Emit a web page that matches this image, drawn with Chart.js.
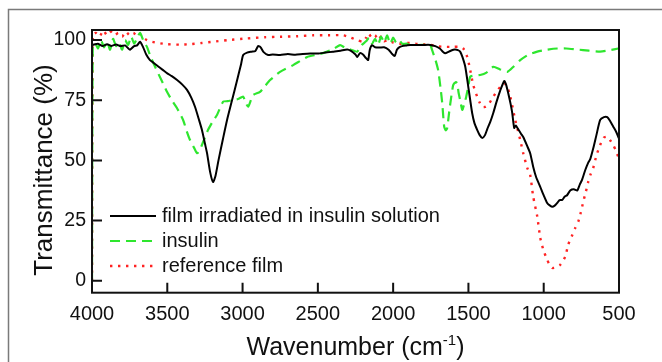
<!DOCTYPE html>
<html lang="en">
<head>
<meta charset="UTF-8">
<title>FTIR transmittance</title>
<script src="https://cdn.jsdelivr.net/npm/chart.js"></script>
<style>
  html, body { margin: 0; padding: 0; background: #fff; }
  canvas { display: block; }
</style>
</head>
<body>
<canvas id="irChart" width="662" height="362"></canvas>
<script>
// series labels and axis ticks
var seriesNames = ["film irradiated in insulin solution", "insulin", "reference film"];
var xTicks = [4000, 3500, 3000, 2500, 2000, 1500, 1000, 500];
var yTicks = [0, 25, 50, 75, 100];

// film irradiated in insulin solution (black)
var filmWn = [3995, 3960, 3930, 3900, 3870, 3840, 3810, 3780, 3760, 3748, 3720, 3700, 3681, 3660, 3640, 3615, 3590, 3560, 3528, 3500,
  3470, 3435, 3400, 3369, 3340, 3316, 3290, 3270, 3250, 3236, 3215, 3196, 3180, 3160, 3130, 3103, 3070, 3036, 3010, 2996,
  2970, 2940, 2915, 2897, 2880, 2860, 2830, 2800, 2750, 2700, 2650, 2600, 2550, 2500, 2450, 2400, 2350, 2305, 2280, 2250,
  2239, 2220, 2200, 2180, 2166, 2155, 2140, 2120, 2090, 2060, 2030, 2010, 1990, 1975, 1960, 1940, 1910, 1887, 1850, 1800,
  1754, 1720, 1690, 1670, 1654, 1630, 1600, 1588, 1570, 1555, 1540, 1521, 1501, 1488, 1475, 1460, 1442, 1425, 1408, 1390,
  1375, 1355, 1335, 1315, 1289, 1262, 1250, 1236, 1220, 1209, 1196, 1185, 1170, 1150, 1136, 1110, 1090, 1070, 1050, 1023,
  1000, 977, 960, 943, 925, 910, 895, 877, 860, 845, 824, 800, 777, 760, 745, 724, 705, 691, 671, 650,
  625, 600, 578, 560, 538, 520, 505, 500];
var filmT = [98, 98.5, 97.5, 98.3, 97.6, 98.2, 97.5, 97.8, 96.6, 96, 97.5, 97.8, 99.3, 97, 94, 91.7, 90.5, 89, 87.5, 86.2,
  85, 83.4, 81.5, 79.3, 76, 72.3, 67, 62.7, 57, 53, 45, 41, 43.5, 50, 59, 66.8, 75, 83.4, 90, 93.8,
  94.8, 95.2, 95.5, 97.5, 97, 95, 93.8, 94, 93.8, 94.2, 93.9, 94.2, 94.4, 94.4, 94.8, 95.2, 95.6, 96.1, 95.5, 94,
  93, 94.6, 94, 92.5, 91.7, 96, 97.9, 97, 96.9, 97, 96, 94.5, 93.4, 96, 97, 97.5, 97.8, 98, 98, 98,
  98, 97.5, 96.5, 95.2, 94.5, 95.2, 96, 96.1, 95.8, 95.2, 93, 88.9, 80.6, 75, 69.6, 65.5, 62.7, 60.5, 59.3, 60.5,
  63, 66, 69.7, 74, 79, 83, 81.5, 78, 73.5, 69.7, 63.5, 64.5, 63, 61, 59.7, 56, 53, 47.4, 43, 39,
  35.5, 32.3, 31.3, 30.7, 31.3, 32.3, 33.5, 33.6, 35, 35.5, 37.5, 38, 37.5, 40, 42, 46, 49, 50.5, 55, 60.5,
  66.8, 68, 68, 66.5, 64, 62, 59.8, 59];

// insulin (green dashed)
var insulinWn = [4000, 3995, 3980, 3960, 3940, 3920, 3900, 3880, 3860, 3840, 3820, 3800, 3780, 3760, 3740, 3720, 3700, 3681, 3660, 3635,
  3610, 3581, 3540, 3502, 3470, 3435, 3395, 3370, 3349, 3320, 3302, 3285, 3270, 3250, 3229, 3200, 3169, 3129, 3100, 3063,
  3030, 2996, 2980, 2963, 2945, 2930, 2884, 2850, 2817, 2751, 2664, 2571, 2500, 2438, 2400, 2352, 2320, 2280, 2239, 2210,
  2180, 2160, 2140, 2120, 2100, 2080, 2060, 2040, 2020, 2000, 1980, 1960, 1940, 1910, 1887, 1800, 1754, 1741, 1720, 1701,
  1685, 1674, 1661, 1650, 1641, 1630, 1620, 1601, 1585, 1575, 1565, 1555, 1541, 1530, 1515, 1500, 1488, 1460, 1422, 1380,
  1335, 1290, 1242, 1200, 1156, 1100, 1043, 980, 910, 850, 777, 700, 625, 560, 505, 500];
var insulinT = [0, 97, 99, 96.5, 100, 97, 99.5, 96, 100.5, 97.5, 99, 96, 100, 98, 101.5, 98.5, 101, 103, 100, 97.2,
  93, 88.9, 83.5, 78.5, 75, 71.7, 66.8, 62, 58.5, 55, 53, 54, 56.4, 59.5, 62.7, 66, 69, 74.4, 74.6, 75.1,
  75.5, 76.5, 74, 72.3, 75, 77.2, 78.5, 81, 83.4, 86.8, 89.6, 93, 94, 95.2, 96.2, 97.9, 96.8, 96, 95.2, 97.9,
  99.5, 100.9, 98.5, 100.5, 98, 101.5, 99, 102, 98.5, 101, 99, 100, 98.5, 98.5, 98, 98, 98, 95.8, 92, 87.5,
  80, 73.8, 64, 62.5, 63.4, 69, 73.8, 81.3, 82.5, 82.1, 78, 75.1, 71, 73, 76.4, 81, 84.8, 85.3, 85.5, 86.5,
  88.9, 87.8, 86.8, 89, 91.7, 94, 95.2, 96, 96.5, 96.5, 96.1, 95.6, 95.2, 95.8, 96.5, 96.6];

// reference film (red dotted)
var refWn = [4000, 3995, 3975, 3950, 3925, 3900, 3875, 3850, 3825, 3800, 3775, 3750, 3725, 3700, 3681, 3660, 3635, 3600, 3560, 3502,
  3420, 3349, 3270, 3196, 3100, 2970, 2850, 2751, 2640, 2531, 2430, 2332, 2280, 2239, 2199, 2180, 2166, 2140, 2120, 2100,
  2080, 2060, 2040, 2000, 1950, 1900, 1850, 1800, 1754, 1700, 1650, 1600, 1555, 1534, 1508, 1488, 1468, 1442, 1425, 1408,
  1390, 1369, 1335, 1289, 1262, 1242, 1222, 1189, 1156, 1136, 1110, 1090, 1070, 1043, 1023, 1003, 977, 960, 943, 920,
  890, 857, 837, 810, 790, 770, 755, 737, 720, 704, 690, 671, 650, 625, 600, 578, 560, 538, 520, 505, 500];
var refT = [0, 102, 103, 101.5, 104, 102, 103.5, 102, 103, 101.5, 103.5, 102, 103, 101.5, 102.5, 101, 100, 99.3, 98.8, 98.3,
  98.1, 98.3, 98.8, 99.3, 100, 100.7, 101.2, 101.4, 101.6, 102, 102, 102, 101, 100, 99.3, 101, 102.8, 101, 102, 100,
  101.5, 99.5, 100, 99, 98.5, 98.8, 98.5, 98.3, 98, 97.4, 97.2, 97.2, 97.2, 96.5, 93, 87.5, 81.3, 76.5, 74, 72.2,
  72.2, 73, 76.5, 80.6, 82, 80.6, 76.5, 66.8, 58.5, 53, 47, 44, 35, 26.7, 17.8, 12.9, 8.7, 6.5, 5.3, 5.5,
  6.6, 10, 15, 19, 22, 24.6, 28, 32.9, 37, 41.2, 44, 46.9, 52, 56.4, 59.5, 59.8, 58.5, 56.4, 54, 51.5, 51];

function toPoints(xs, ys) {
  return xs.map(function(x, i) { return { x: x, y: ys[i] }; });
}

var FONT = "'Liberation Sans', Arial, sans-serif";

var decorPlugin = {
  id: 'decor',
  beforeDraw: function(chart) {
    var c = chart.ctx;
    c.save();
    c.fillStyle = '#fff';
    c.fillRect(0, 0, chart.width, chart.height);
    c.strokeStyle = '#7a7a7a';
    c.lineWidth = 1.5;
    c.beginPath();
    c.moveTo(8.5, 362);
    c.lineTo(8.5, 9.5);
    c.lineTo(662, 9.5);
    c.stroke();
    c.restore();
  },
  afterDatasetsDraw: function(chart) {
    var a = chart.chartArea, c = chart.ctx;
    var xs = chart.scales.x, ys = chart.scales.y;
    c.save();
    // plot frame + inward tick marks
    c.strokeStyle = '#111';
    c.lineWidth = 2;
    c.strokeRect(a.left, a.top, a.right - a.left, a.bottom - a.top);
    c.beginPath();
    yTicks.forEach(function(v) {
      var py = ys.getPixelForValue(v);
      c.moveTo(a.left, py); c.lineTo(a.left + 10, py);
    });
    xTicks.forEach(function(v) {
      var px = xs.getPixelForValue(v);
      c.moveTo(px, a.bottom); c.lineTo(px, a.bottom - 10);
    });
    c.stroke();

    // axis titles
    c.fillStyle = '#111';
    c.font = '25px ' + FONT;
    c.textBaseline = 'alphabetic';
    var main = 'Wavenumber (cm', sup = '-1', tail = ')';
    var w1 = c.measureText(main).width, w3 = c.measureText(tail).width;
    c.font = '15px ' + FONT;
    var w2 = c.measureText(sup).width;
    var x0 = (a.left + a.right) / 2 - (w1 + w2 + w3) / 2;
    c.font = '25px ' + FONT;
    c.textAlign = 'left';
    c.fillText(main, x0, 355);
    c.font = '15px ' + FONT;
    c.fillText(sup, x0 + w1, 345);
    c.font = '25px ' + FONT;
    c.fillText(tail, x0 + w1 + w2, 355);

    c.save();
    c.translate(52, 170);
    c.rotate(-Math.PI / 2);
    c.textAlign = 'center';
    c.font = '26px ' + FONT;
    c.fillText('Transmittance (%)', 0, 0);
    c.restore();

    // legend inside the plot
    c.font = '20px ' + FONT;
    c.textAlign = 'left';
    c.textBaseline = 'middle';
    var rows = [216, 241, 266];
    chart.data.datasets.forEach(function(ds, i) {
      c.save();
      c.strokeStyle = ds.borderColor;
      c.lineWidth = ds.borderWidth;
      c.setLineDash(ds.borderDash || []);
      c.beginPath();
      c.moveTo(110, rows[i]);
      c.lineTo(156, rows[i]);
      c.stroke();
      c.restore();
      c.fillStyle = '#111';
      c.fillText(ds.label, 162, rows[i]);
    });
    c.restore();
  }
};

var chart = new Chart(document.getElementById('irChart'), {
  type: 'line',
  data: {
    datasets: [
      { label: seriesNames[0], data: toPoints(filmWn, filmT), borderColor: '#000000', borderWidth: 2, pointRadius: 0, tension: 0.2 },
      { label: seriesNames[1], data: toPoints(insulinWn, insulinT), borderColor: '#2ee62e', borderWidth: 2.2, borderDash: [10, 6], pointRadius: 0, tension: 0.2 },
      { label: seriesNames[2], data: toPoints(refWn, refT), borderColor: '#ff2222', borderWidth: 2.4, borderDash: [2.4, 5.6], pointRadius: 0, tension: 0.2 }
    ]
  },
  options: {
    responsive: false,
    animation: false,
    devicePixelRatio: 1,
    layout: { padding: { top: 30, right: 43, left: 0, bottom: 0 } },
    plugins: { legend: { display: false }, tooltip: { enabled: false } },
    scales: {
      x: {
        type: 'linear',
        reverse: true,
        min: 500,
        max: 4000,
        grid: { display: false, drawTicks: false },
        border: { display: false },
        afterBuildTicks: function(s) { s.ticks = xTicks.map(function(v) { return { value: v }; }); },
        afterFit: function(s) { s.height = 69.3; },
        ticks: {
          color: '#111', padding: 10, maxRotation: 0, autoSkip: false,
          font: { family: FONT, size: 20 },
          callback: function(v) { return String(v); }
        }
      },
      y: {
        min: -5,
        max: 104.2,
        grid: { display: false, drawTicks: false },
        border: { display: false },
        afterBuildTicks: function(s) { s.ticks = yTicks.map(function(v) { return { value: v }; }); },
        afterFit: function(s) { s.width = 92; },
        ticks: {
          color: '#111', padding: 6,
          font: { family: FONT, size: 19.5 },
          callback: function(v) { return String(v); }
        }
      }
    }
  },
  plugins: [decorPlugin]
});
</script>
</body>
</html>
